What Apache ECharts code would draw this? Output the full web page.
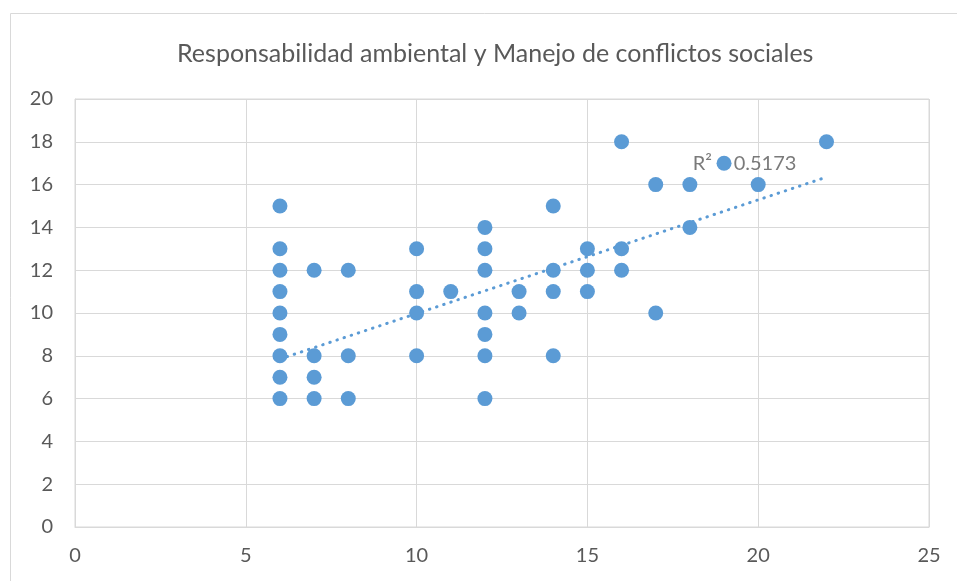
<!DOCTYPE html>
<html>
<head>
<meta charset="utf-8">
<script src="https://cdn.jsdelivr.net/npm/echarts@6/dist/echarts.min.js"></script>
<style>html,body{margin:0;padding:0;background:#fff;}#c{width:957px;height:581px;}</style>
</head>
<body>
<div id="c"></div>
<script>
const titleText = 'Responsabilidad ambiental y Manejo de conflictos sociales';
const xTicks = [0, 5, 10, 15, 20, 25];
const yTicks = [0, 2, 4, 6, 8, 10, 12, 14, 16, 18, 20];
const points = [
  [6,15],[6,13],[6,12],[6,11],[6,10],[6,9],[6,8],[6,7],[6,6],
  [7,12],[7,8],[7,7],[7,6],
  [8,12],[8,8],[8,6],
  [10,13],[10,11],[10,10],[10,8],
  [11,11],
  [12,14],[12,13],[12,12],[12,10],[12,9],[12,8],[12,6],
  [13,11],[13,10],
  [14,15],[14,12],[14,11],[14,8],
  [15,13],[15,12],[15,11],
  [16,18],[16,13],[16,12],
  [17,16],[17,10],
  [18,16],[18,14],
  [19,17],
  [20,16],
  [22,18]
];
const trendline = [[6, 7.85], [22, 16.35]];
const r2Label = 'R² = 0.5173';
const r2Pos = [19.6, 17.0];

const chart = echarts.init(document.getElementById('c'));
const grey = '#595959';
const font = "Lato, 'Open Sans', sans-serif";
chart.setOption({
  animation: false,
  title: {
    text: titleText, left: 172, top: 36,
    textStyle: { color: grey, fontSize: 25, fontWeight: 'normal', fontFamily: font }
  },
  graphic: [{
    type: 'rect', shape: { x: 10.5, y: 13.5, width: 960, height: 600 },
    style: { fill: 'none', stroke: '#D9D9D9', lineWidth: 1 }, z: -10
  }],
  grid: { left: 75, right: 28, top: 99, bottom: 54, show: true, borderColor: '#D9D9D9', borderWidth: 1 },
  xAxis: {
    type: 'value', min: xTicks[0], max: xTicks[xTicks.length-1], interval: 5,
    axisLine: { show: true, lineStyle: { color: '#D9D9D9' } },
    axisTick: { show: false },
    splitLine: { show: true, lineStyle: { color: '#D9D9D9', width: 1 } },
    axisLabel: { color: grey, fontSize: 20, fontFamily: font, margin: 19 }
  },
  yAxis: {
    type: 'value', min: yTicks[0], max: yTicks[yTicks.length-1], interval: 2,
    axisLine: { show: true, lineStyle: { color: '#D9D9D9' } },
    axisTick: { show: false },
    splitLine: { show: true, lineStyle: { color: '#D9D9D9', width: 1 } },
    axisLabel: { color: grey, fontSize: 20, fontFamily: font, margin: 22 }
  },
  series: [
    {
      type: 'scatter', data: [r2Pos], symbolSize: 0, z: 1, silent: true,
      label: { show: true, position: 'inside', formatter: r2Label, color: grey, fontSize: 20, fontFamily: font }
    },
    {
      type: 'line', data: trendline, showSymbol: false, symbol: 'none', z: 2,
      lineStyle: { color: '#5B9BD5', width: 3, type: [0.5, 7], cap: 'round' }
    },
    {
      type: 'scatter', data: points, symbolSize: 15, z: 3,
      itemStyle: { color: '#5B9BD5', opacity: 1 }
    }
  ]
});
</script>
</body>
</html>
